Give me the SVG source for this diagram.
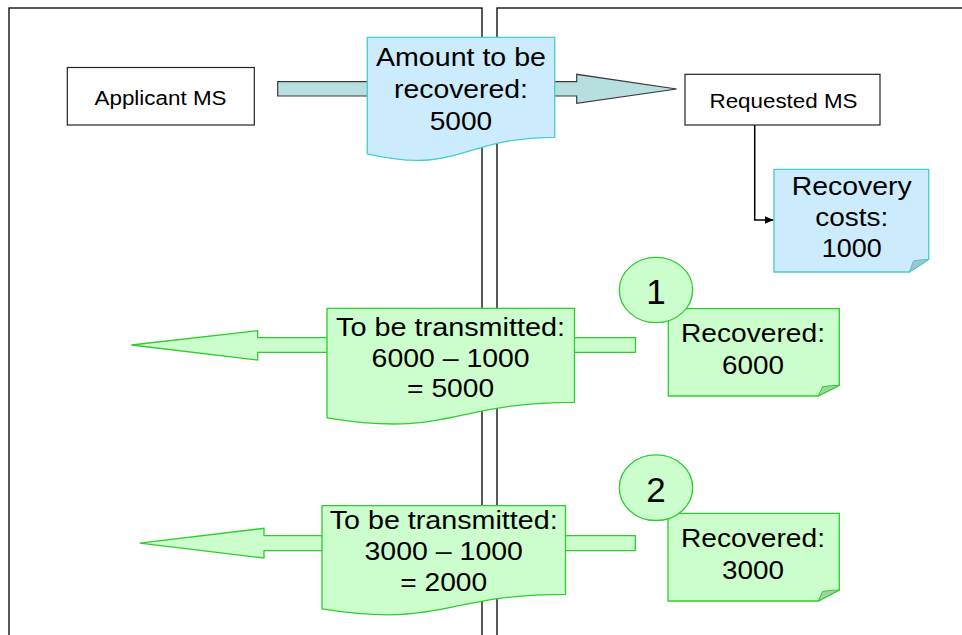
<svg xmlns="http://www.w3.org/2000/svg" width="962" height="635" viewBox="0 0 962 635">
  <style>
    .frame { fill: none; stroke: #000; stroke-width: 1.3; }
    .box { fill: #fff; stroke: #222; stroke-width: 1.2; }
    .blue { fill: #ccecfd; stroke: #45cccc; stroke-width: 1.3; }
    .blue-fold { fill: #a9bfcb; stroke: #45cccc; stroke-width: 1; }
    .green { fill: #ccfdcc; stroke: #2fcc2f; stroke-width: 1.3; }
    .green-fold { fill: #9fd49f; stroke: #2fcc2f; stroke-width: 1; }
    .teal-arrow { fill: #b8dfe0; stroke: #3a3a3a; stroke-width: 1.2; }
    .link { fill: none; stroke: #000; stroke-width: 1.5; }
    text { font-family: "Liberation Sans", Arial, sans-serif; fill: #000; text-anchor: middle; }
    .t20 { font-size: 20px; }
    .t25 { font-size: 25px; }
    .num { font-size: 35px; }
  </style>
  <defs>
    <marker id="arrowhead" markerWidth="10" markerHeight="10" refX="9" refY="5" orient="auto" markerUnits="userSpaceOnUse">
      <path d="M0,1 L9,5 L0,9 Z" fill="#000"/>
    </marker>
  </defs>

  <!-- two side-by-side panels -->
  <g id="panels">
    <rect class="frame" x="9" y="8" width="473" height="700"/>
    <rect class="frame" x="497" y="8" width="500" height="700"/>
  </g>

  <!-- connectors: block arrows and elbow link -->
  <g id="connectors">
    <polygon class="teal-arrow" points="277.7,81.7 576.7,81.7 576.7,74.3 676.7,89 576.7,103.3 576.7,96 277.7,96"/>
    <polygon class="green" points="131.4,345 257.7,330.7 257.7,337.7 635.5,337.7 635.5,352.3 257.7,352.3 257.7,360"/>
    <polygon class="green" points="139.8,543.2 264,528.3 264,535.7 635.3,535.7 635.3,550.7 264,550.7 264,558"/>
    <path class="link" d="M754.7,125 V220 H773.5" marker-end="url(#arrowhead)"/>
  </g>

  <g id="applicant-ms">
    <rect class="box" x="67.3" y="67.5" width="187" height="57.5"/>
    <text class="t20" x="160.5" y="105" textLength="132" lengthAdjust="spacingAndGlyphs">Applicant MS</text>
  </g>

  <g id="requested-ms">
    <rect class="box" x="685" y="74.3" width="195" height="50.7"/>
    <text class="t20" x="783.5" y="108.3" textLength="148" lengthAdjust="spacingAndGlyphs">Requested MS</text>
  </g>

  <g id="amount-to-recover">
    <path class="blue" d="M367.3,37.3 H554.7 V137.3 C461,137.3 461,175.4 367.3,153.8 Z"/>
    <text class="t25" x="461" y="66" textLength="170" lengthAdjust="spacingAndGlyphs">Amount to be</text>
    <text class="t25" x="461" y="98" textLength="134" lengthAdjust="spacingAndGlyphs">recovered:</text>
    <text class="t25" x="461" y="129.5" textLength="62.5" lengthAdjust="spacingAndGlyphs">5000</text>
  </g>

  <g id="recovery-costs">
    <path class="blue" d="M774,169.3 H928.7 V259.3 L909.3,272 H774 Z"/>
    <path class="blue-fold" d="M909.3,272 L913.5,261 Q920,259.6 928.7,259.3 Z"/>
    <text class="t25" x="851.7" y="195" textLength="120" lengthAdjust="spacingAndGlyphs">Recovery</text>
    <text class="t25" x="851.7" y="226" textLength="73" lengthAdjust="spacingAndGlyphs">costs:</text>
    <text class="t25" x="851.7" y="256.7" textLength="60" lengthAdjust="spacingAndGlyphs">1000</text>
  </g>

  <g id="transmit-1">
    <path class="green" d="M327,308.3 H574.5 V402.3 C450.75,402.3 450.75,438.1 327,417.8 Z"/>
    <text class="t25" x="450.6" y="336" textLength="229" lengthAdjust="spacingAndGlyphs">To be transmitted:</text>
    <text class="t25" x="450.6" y="366.7" textLength="158" lengthAdjust="spacingAndGlyphs">6000 – 1000</text>
    <text class="t25" x="450.6" y="397.3" textLength="87" lengthAdjust="spacingAndGlyphs">= 5000</text>
  </g>

  <g id="recovered-1">
    <path class="green" d="M668.3,308.7 H839.3 V385.3 L818.3,396 H668.3 Z"/>
    <path class="green-fold" d="M818.3,396 L822.6,386.7 Q830,385.6 839.3,385.3 Z"/>
    <text class="t25" x="753" y="342.3" textLength="144" lengthAdjust="spacingAndGlyphs">Recovered:</text>
    <text class="t25" x="753" y="374" textLength="62" lengthAdjust="spacingAndGlyphs">6000</text>
  </g>

  <g id="step-1">
    <ellipse class="green" cx="656" cy="290" rx="36.7" ry="32.7"/>
    <text class="num" x="656" y="304">1</text>
  </g>

  <g id="transmit-2">
    <path class="green" d="M322,505.7 H565.5 V594.3 C443.75,594.3 443.75,628.1 322,608.9 Z"/>
    <text class="t25" x="443.7" y="529.3" textLength="228" lengthAdjust="spacingAndGlyphs">To be transmitted:</text>
    <text class="t25" x="443.7" y="560" textLength="158.5" lengthAdjust="spacingAndGlyphs">3000 – 1000</text>
    <text class="t25" x="443.7" y="590.7" textLength="87" lengthAdjust="spacingAndGlyphs">= 2000</text>
  </g>

  <g id="recovered-2">
    <path class="green" d="M668,513.3 H839.3 V590 L818.3,601 H668 Z"/>
    <path class="green-fold" d="M818.3,601 L822.6,591.4 Q830,590.3 839.3,590 Z"/>
    <text class="t25" x="753" y="547.3" textLength="144" lengthAdjust="spacingAndGlyphs">Recovered:</text>
    <text class="t25" x="753" y="579.3" textLength="62" lengthAdjust="spacingAndGlyphs">3000</text>
  </g>

  <g id="step-2">
    <ellipse class="green" cx="656" cy="487.7" rx="36.7" ry="32.8"/>
    <text class="num" x="656" y="501.7">2</text>
  </g>
</svg>
